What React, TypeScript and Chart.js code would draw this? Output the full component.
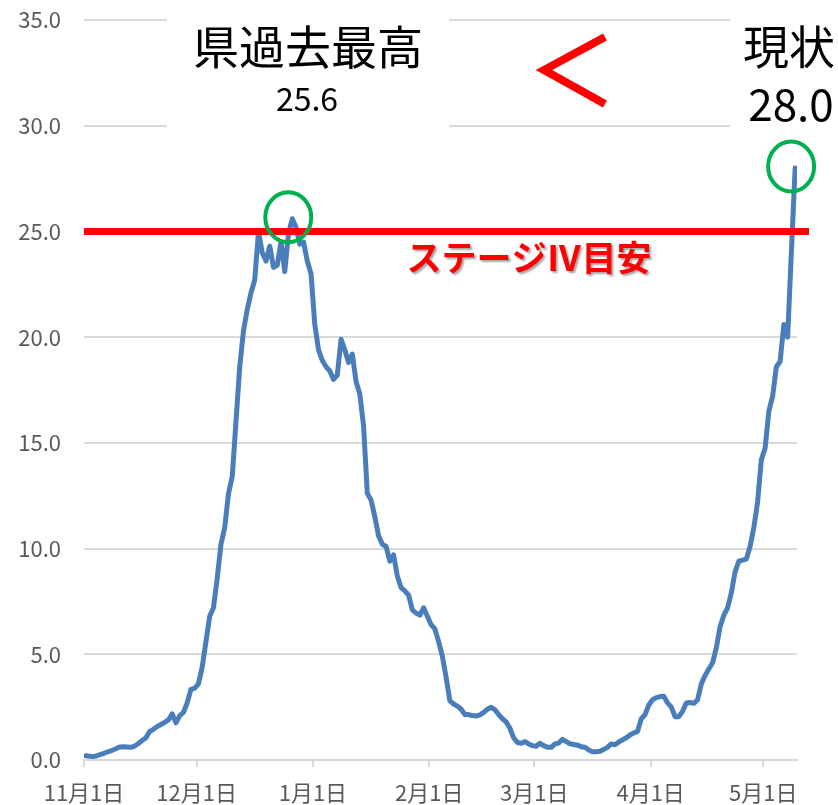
import React, { useEffect, useRef } from "react";
import { Chart, registerables } from "chart.js";

Chart.register(...registerables);

// Daily values (one per day, starting Nov 1)
const NOV = [0.2, 0.18, 0.16, 0.2, 0.27, 0.33, 0.4, 0.46, 0.53, 0.62, 0.63, 0.62, 0.6, 0.66, 0.78, 0.92, 1.05, 1.35, 1.45, 1.58, 1.68, 1.78, 1.9, 2.18, 1.76, 2.1, 2.25, 2.7, 3.34, 3.4];
const DEC = [3.6, 4.4, 5.6, 6.8, 7.2, 8.6, 10.2, 11.0, 12.6, 13.4, 16.0, 18.6, 20.3, 21.3, 22.1, 22.7, 25.0, 24.0, 23.6, 24.3, 23.3, 23.4, 24.5, 23.1, 24.9, 25.6, 25.2, 24.4, 24.5, 23.6, 23.0];
const JAN = [20.6, 19.4, 18.9, 18.6, 18.4, 18.0, 18.2, 19.9, 19.4, 18.8, 19.2, 17.9, 17.3, 15.8, 12.6, 12.3, 11.5, 10.6, 10.2, 10.1, 9.4, 9.7, 8.7, 8.15, 8.0, 7.8, 7.1, 6.95, 6.85, 7.2, 6.8];
const FEB = [6.4, 6.2, 5.6, 4.9, 3.9, 2.8, 2.65, 2.55, 2.4, 2.15, 2.15, 2.1, 2.08, 2.13, 2.25, 2.4, 2.49, 2.38, 2.15, 1.95, 1.8, 1.5, 1.05, 0.83, 0.79, 0.87, 0.76, 0.68];
const MAR = [0.65, 0.79, 0.68, 0.6, 0.6, 0.76, 0.8, 0.98, 0.87, 0.77, 0.73, 0.7, 0.63, 0.6, 0.47, 0.39, 0.39, 0.41, 0.5, 0.6, 0.76, 0.72, 0.85, 0.95, 1.05, 1.18, 1.28, 1.34, 1.95, 2.15, 2.6];
const APR = [2.85, 2.95, 3.0, 3.02, 2.7, 2.5, 2.05, 2.05, 2.3, 2.7, 2.72, 2.68, 2.85, 3.6, 4.0, 4.3, 4.6, 5.3, 6.3, 6.85, 7.2, 7.9, 8.9, 9.4, 9.45, 9.5, 10.1, 11.0, 12.2, 14.2];
const MAY = [14.75, 16.5, 17.2, 18.6, 18.85, 20.6, 20.0, 24.0, 28.0];

const VALUES = [...NOV, ...DEC, ...JAN, ...FEB, ...MAR, ...APR, ...MAY];

const MONTH_TICK_DAYS = [0, 30, 61, 92, 120, 151, 181];
const MONTH_LABELS = ["11月1日", "12月1日", "1月1日", "2月1日", "3月1日", "4月1日", "5月1日"];
const AXIS_END_DAY = 190;
const Y_TICKS = [0, 5, 10, 15, 20, 25, 30, 35];

const STAGE4 = 25;
const STAGE4_END_DAY = 193.2;
const STAGE4_LABEL = "ステージⅣ目安";
const PAST_TITLE = "県過去最高";
const PAST_MAX = 25.6;
const NOW_TITLE = "現状";
const NOW_VALUE = 28.0;

const FONT = "'Noto Sans CJK JP', 'Noto Sans', sans-serif";

export default function App() {
  const ref = useRef<HTMLCanvasElement | null>(null);

  useEffect(() => {
    if (!ref.current) return;
    const peakIdx = VALUES.indexOf(PAST_MAX);
    const lastIdx = VALUES.length - 1;

    const overlay = {
      id: "overlay",
      beforeDatasetsDraw(chart: any) {
        const ctx = chart.ctx;
        ctx.save();
        ctx.fillStyle = "#ffffff";
        ctx.fillRect(167, 4, 282, 131);
        ctx.fillRect(730, 4, 108, 131);
        ctx.restore();
      },
      afterDraw(chart: any) {
        const ctx = chart.ctx;
        const xs = chart.scales.x;
        const ys = chart.scales.y;
        ctx.save();
        const ring = (i: number) => {
          const cx = xs.getPixelForValue(i + 0.5) - 4;
          const cy = ys.getPixelForValue(VALUES[i]) - 1.5;
          ctx.beginPath();
          ctx.ellipse(cx, cy, 23, 25, 0, 0, Math.PI * 2);
          ctx.strokeStyle = "#00B050";
          ctx.lineWidth = 4;
          ctx.stroke();
        };
        ring(peakIdx);
        ring(lastIdx);

        ctx.textAlign = "center";
        ctx.textBaseline = "middle";
        ctx.fillStyle = "#000000";
        ctx.font = `46px ${FONT}`;
        ctx.fillText(PAST_TITLE, 308, 47);
        ctx.fillText(NOW_TITLE, 789, 47);
        ctx.font = `32px ${FONT}`;
        ctx.fillText(PAST_MAX.toFixed(1), 307, 99);
        ctx.font = `44px ${FONT}`;
        ctx.fillText(NOW_VALUE.toFixed(1), 791, 104);

        ctx.beginPath();
        ctx.moveTo(605, 37);
        ctx.lineTo(544, 70);
        ctx.lineTo(605, 104);
        ctx.strokeStyle = "#FF0000";
        ctx.lineWidth = 8;
        ctx.lineJoin = "miter";
        ctx.stroke();

        ctx.font = `bold 35px ${FONT}`;
        ctx.shadowColor = "rgba(0,0,0,0.35)";
        ctx.shadowOffsetX = 2;
        ctx.shadowOffsetY = 2;
        ctx.shadowBlur = 2;
        ctx.fillStyle = "#FF0000";
        ctx.fillText(STAGE4_LABEL, 529, 258);
        ctx.restore();
      },
    };

    const chart = new Chart(ref.current, {
      type: "line",
      data: {
        datasets: [
          {
            data: [
              { x: 0, y: STAGE4 },
              { x: STAGE4_END_DAY, y: STAGE4 },
            ],
            borderColor: "#FF0000",
            borderWidth: 7,
            borderCapStyle: "butt",
            pointRadius: 0,
            clip: false as any,
          },
          {
            data: VALUES.map((v, i) => ({ x: i + 0.5, y: v })),
            borderColor: "#4A7EBB",
            borderWidth: 5,
            borderJoinStyle: "round",
            borderCapStyle: "round",
            pointRadius: 0,
            tension: 0,
          },
        ],
      },
      options: {
        responsive: false,
        animation: false,
        devicePixelRatio: 1,
        layout: { padding: { top: 20, right: 41, left: 0, bottom: 0 } },
        plugins: { legend: { display: false }, tooltip: { enabled: false } },
        scales: {
          x: {
            type: "linear",
            min: 0,
            max: AXIS_END_DAY,
            afterBuildTicks: (s: any) => {
              s.ticks = MONTH_TICK_DAYS.map((v) => ({ value: v }));
            },
            afterFit: (s: any) => {
              s.height = 45;
            },
            ticks: {
              autoSkip: false,
              maxRotation: 0,
              padding: 12,
              color: "#595959",
              font: { family: FONT, size: 22 },
              callback: (v: any) => {
                const k = MONTH_TICK_DAYS.indexOf(Number(v));
                return k >= 0 ? MONTH_LABELS[k] : "";
              },
            },
            grid: { drawOnChartArea: false, drawTicks: true, tickLength: 7, color: "#d9d9d9", lineWidth: 2 },
            border: { display: true, color: "#d9d9d9", width: 2 },
          },
          y: {
            min: 0,
            max: 35,
            afterBuildTicks: (s: any) => {
              s.ticks = Y_TICKS.map((v) => ({ value: v }));
            },
            afterFit: (s: any) => {
              s.width = 84;
            },
            ticks: {
              padding: 0,
              color: "#595959",
              font: { family: FONT, size: 22 },
              callback: (v: any) => Number(v).toFixed(1),
            },
            grid: { color: "#d9d9d9", lineWidth: 2, drawTicks: true, tickLength: 23, tickColor: "rgba(0,0,0,0)" },
            border: { display: false },
          },
        },
      },
      plugins: [overlay],
    } as any);

    return () => chart.destroy();
  }, []);

  return (
    <div style={{ position: "absolute", left: 0, top: 0, width: 838, height: 805, background: "#fff" }}>
      <canvas ref={ref} width={838} height={805} style={{ display: "block" }} />
    </div>
  );
}
